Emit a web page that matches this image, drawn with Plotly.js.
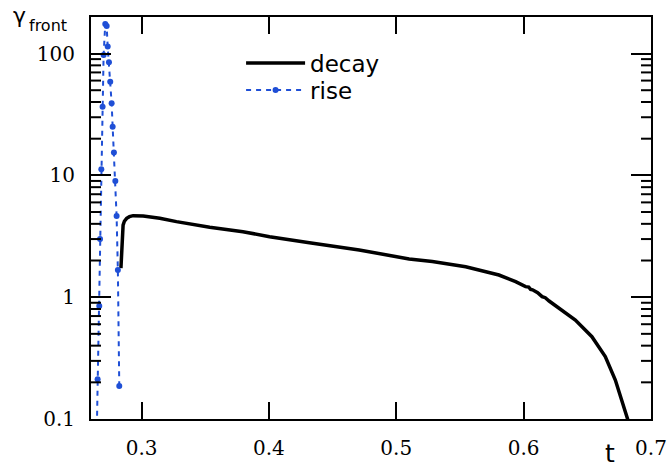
<!DOCTYPE html>
<html>
<head>
<meta charset="utf-8">
<script src="https://cdn.plot.ly/plotly-3.0.1.min.js"></script>
<style>html,body{margin:0;padding:0;background:#fff;}#plot{width:672px;height:470px;}</style>
</head>
<body>
<div id="plot"></div>
<script>
// decay series
const decayT = [0.2838, 0.2842, 0.2848, 0.2855, 0.2865, 0.2883, 0.2905, 0.2934, 0.3013, 0.3143, 0.3274, 0.3535, 0.3796, 0.4005, 0.4318, 0.4709, 0.5101, 0.5283, 0.5545, 0.5806, 0.5937, 0.6015, 0.6040, 0.6055, 0.6070, 0.6093, 0.6110, 0.6145, 0.6170, 0.6200, 0.6276, 0.6406, 0.6536, 0.6641, 0.6720, 0.6810, 0.6830];
const decayV = [1.73, 2.3, 3.35, 3.9, 4.2, 4.44, 4.58, 4.67, 4.64, 4.44, 4.17, 3.75, 3.45, 3.14, 2.80, 2.44, 2.06, 1.96, 1.78, 1.52, 1.34, 1.22, 1.21, 1.16, 1.15, 1.11, 1.09, 1.01, 0.99, 0.93, 0.81, 0.65, 0.474, 0.325, 0.209, 0.101, 0.09];
// rise series
const riseT = [0.2645, 0.2655, 0.2668, 0.2674, 0.2684, 0.2694, 0.2702, 0.2715, 0.2726, 0.2734, 0.2744, 0.2754, 0.2765, 0.2773, 0.2783, 0.2794, 0.2804, 0.2814, 0.2825];
const riseV = [0.05, 0.212, 0.847, 3.0, 11.2, 36.6, 97.4, 175, 168.5, 114, 84.8, 58.8, 39.1, 25.1, 15.4, 9.0, 4.64, 1.67, 0.187];
// tick labels
const xTicks = [0.3, 0.4, 0.5, 0.6, 0.7];
const xTickText = ['0.3', '0.4', '0.5', '0.6', '0.7'];
const yTicks = [0.1, 1, 10, 100];
const yTickText = ['0.1', '1', '10', '100'];
const yMinorTicks = [0.2, 0.3, 0.4, 0.5, 0.6, 0.7, 0.8, 0.9, 2, 3, 4, 5, 6, 7, 8, 9, 20, 30, 40, 50, 60, 70, 80, 90];

const blue = '#1f4fd6';
const traces = [
  {x: decayT, y: decayV, name: 'decay', type: 'scatter', mode: 'lines',
   line: {color: '#000', width: 3.5}, legend: 'legend'},
  {x: riseT, y: riseV, name: 'rise', type: 'scatter', mode: 'lines+markers',
   line: {color: blue, width: 2, dash: '5px,5px'},
   marker: {color: blue, size: 6}, legend: 'legend2'}
];
function serif() { return {family: 'DejaVu Serif', size: 20, color: '#000'}; }
function legFont() { return {family: 'DejaVu Sans', size: 23, color: '#000'}; }
const minorLen = 10 / 560;
const minorShapes = [];
yMinorTicks.forEach(function(v) {
  minorShapes.push({type: 'line', xref: 'paper', yref: 'y', x0: 0, x1: minorLen, y0: v, y1: v,
                    line: {color: '#000', width: 2}});
  minorShapes.push({type: 'line', xref: 'paper', yref: 'y', x0: 1 - minorLen, x1: 1, y0: v, y1: v,
                    line: {color: '#000', width: 2}});
});
const layout = {
  width: 672, height: 470,
  margin: {l: 91, r: 21, t: 17, b: 51},
  paper_bgcolor: '#fff', plot_bgcolor: '#fff',
  showlegend: true,
  legend: {x: 0.268, y: 0.8855, xanchor: 'left', yanchor: 'middle', bgcolor: 'rgba(0,0,0,0)',
           font: legFont(), itemwidth: 59},
  legend2: {x: 0.268, y: 0.818, xanchor: 'left', yanchor: 'middle', bgcolor: 'rgba(0,0,0,0)',
           font: legFont(), itemwidth: 59},
  xaxis: {range: [0.2603, 0.7], showgrid: false, zeroline: false,
          showline: true, linecolor: '#000', linewidth: 2, mirror: 'ticks',
          ticks: 'inside', ticklen: 17, tickwidth: 2, tickcolor: '#000',
          tickvals: xTicks, ticktext: xTickText, tickfont: serif(), ticklabelstandoff: 10},
  yaxis: {type: 'log', range: [-1, 2.3], showgrid: false, zeroline: false,
          showline: true, linecolor: '#000', linewidth: 2, mirror: 'ticks',
          ticks: 'inside', ticklen: 20, tickwidth: 2, tickcolor: '#000',
          tickvals: yTicks, ticktext: yTickText, tickfont: serif(), ticklabelstandoff: 10},
  shapes: minorShapes,
  annotations: [
    {xref: 'paper', yref: 'paper', x: -0.1429, y: 1.004, xanchor: 'left', yanchor: 'middle',
     text: 'γ', showarrow: false,
     font: {family: 'DejaVu Sans', size: 22, color: '#000'}},
    {xref: 'paper', yref: 'paper', x: -0.1143, y: 0.9796, xanchor: 'left', yanchor: 'middle',
     text: 'front', showarrow: false,
     font: {family: 'DejaVu Sans', size: 16, color: '#000'}},
    {xref: 'paper', yref: 'paper', x: 0.926, y: -0.045, xanchor: 'center', yanchor: 'top',
     text: 't', showarrow: false,
     font: {family: 'DejaVu Sans', size: 25, color: '#000'}}
  ]
};
Plotly.newPlot('plot', traces, layout, {displayModeBar: false, staticPlot: true});
</script>
</body>
</html>
